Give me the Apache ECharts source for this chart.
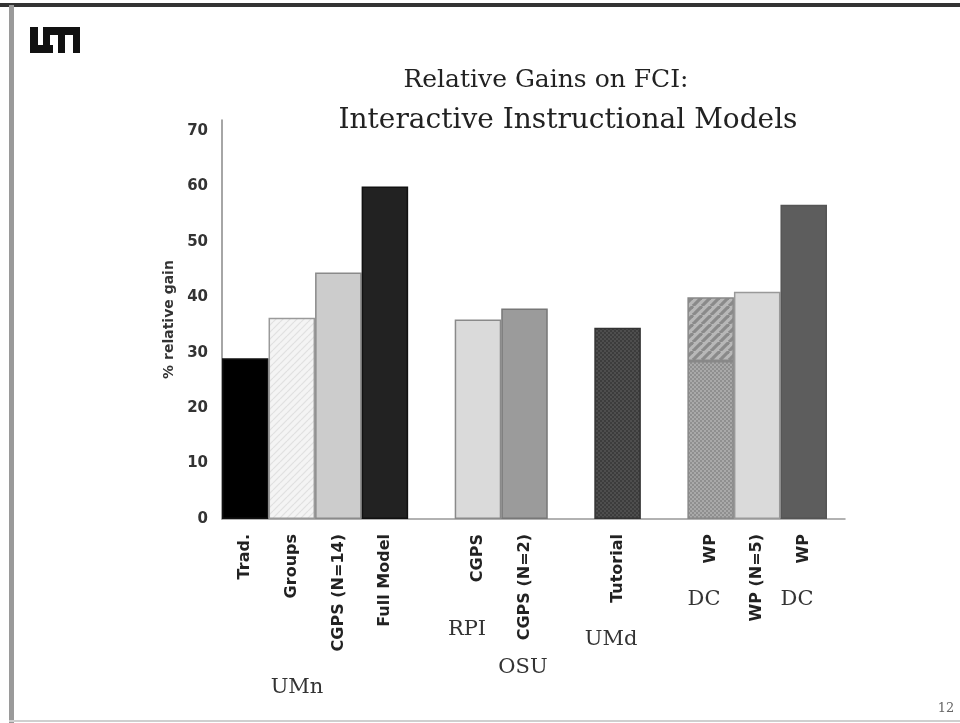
<!DOCTYPE html>
<html>
<head>
<meta charset="utf-8">
<title>Relative Gains on FCI</title>
<script src="https://cdn.jsdelivr.net/npm/echarts@6/dist/echarts.min.js"></script>
<style>
  html, body { margin: 0; padding: 0; background: #fff; }
  #chart { width: 960px; height: 723px; }
</style>
</head>
<body>
<div id="chart"></div>
<script>
// Categories along the x axis (empty strings are spacer slots between institutions)
const categories = ['Trad.', 'Groups', 'CGPS (N=14)', 'Full Model', '', 'CGPS', 'CGPS (N=2)', '', 'Tutorial', '', 'WP', 'WP (N=5)', 'WP'];
// % relative gain for each category
const gains = [29, 36.3, 44.5, 60, null, 36, 38, null, 34.5, null, 40, 41, 56.7];
// The first DC "WP" bar is split into two shaded parts; this is the lower part
const splitIndex = 10;
const splitLower = 28.5;
// Y axis ticks
const yTicks = [0, 10, 20, 30, 40, 50, 60, 70];
// Institution labels under the axis labels
const groupLabels = ['UMn', 'RPI', 'OSU', 'UMd', 'DC', 'DC'];

// Small canvas textures used as bar fills
function makePattern(size, draw) {
  const c = document.createElement('canvas');
  c.width = size; c.height = size;
  draw(c.getContext('2d'), size);
  return { image: c, repeat: 'repeat' };
}
function diagonal(bg, fg, size, lw) {
  return makePattern(size, (ctx, s) => {
    ctx.fillStyle = bg; ctx.fillRect(0, 0, s, s);
    ctx.strokeStyle = fg; ctx.lineWidth = lw;
    for (let k = -1; k <= 1; k++) {
      ctx.beginPath();
      ctx.moveTo(k * s, s);
      ctx.lineTo(k * s + s, 0);
      ctx.stroke();
    }
  });
}
function checker(a, b) {
  return makePattern(4, (ctx) => {
    ctx.fillStyle = a; ctx.fillRect(0, 0, 4, 4);
    ctx.fillStyle = b; ctx.fillRect(0, 0, 2, 2); ctx.fillRect(2, 2, 2, 2);
  });
}

const fills = [
  '#000000',
  diagonal('#f4f4f4', '#e0e0e0', 7, 1.2),
  '#cccccc',
  '#222222',
  null,
  '#dadada',
  '#9b9b9b',
  null,
  checker('#4e4e4e', '#3c3c3c'),
  null,
  checker('#a9a9a9', '#8f8f8f'),
  '#dadada',
  '#5d5d5d'
];
const borders = ['#111', '#9a9a9a', '#8a8a8a', '#111', null, '#8a8a8a', '#777', null, '#333', null, '#888', '#999', '#555'];
const upperFill = diagonal('#b8b8b8', '#8a8a8a', 9, 3.2);

const lowerData = gains.map((v, i) => {
  if (v == null) return null;
  return {
    value: i === splitIndex ? splitLower : v,
    itemStyle: { color: fills[i], borderColor: borders[i], borderWidth: 1.5 }
  };
});
const upperData = gains.map((v, i) => {
  if (i !== splitIndex) return null;
  return {
    value: v - splitLower,
    itemStyle: { color: upperFill, borderColor: '#888', borderWidth: 1.5 }
  };
});

const axisFont = 'DejaVu Sans, Liberation Sans, Arial, sans-serif';
const serifFont = 'DejaVu Serif, Liberation Serif, serif';

const groupPos = [[297, 688], [467, 630], [523, 668], [611, 640], [704, 600], [797, 600]];

const chart = echarts.init(document.getElementById('chart'), null, { renderer: 'canvas' });
chart.setOption({
  backgroundColor: '#ffffff',
  animation: false,
  title: [
    { text: 'Relative Gains on FCI:', left: 541, top: 63, textAlign: 'center',
      textStyle: { fontFamily: serifFont, fontSize: 25, fontWeight: 'normal', color: '#222' } },
    { text: 'Interactive Instructional Models', left: 563, top: 102, textAlign: 'center',
      textStyle: { fontFamily: serifFont, fontSize: 28, fontWeight: 'normal', color: '#222' } }
  ],
  grid: [
    { left: 222, right: 133, top: 120, bottom: 204 },
    { left: 222, right: 115, top: 120, bottom: 204 }
  ],
  xAxis: [
    {
      type: 'category', gridIndex: 0, data: categories,
      axisLine: { show: false },
      axisTick: { show: false },
      axisLabel: {
        interval: 0, rotate: 90, margin: 15,
        fontFamily: axisFont, fontWeight: 'bold', fontSize: 16, color: '#222'
      }
    },
    {
      type: 'value', gridIndex: 1, min: 0, max: 1,
      axisLine: { show: true, onZero: false, lineStyle: { color: '#999', width: 1.5 } },
      axisTick: { show: false }, axisLabel: { show: false }, splitLine: { show: false }
    }
  ],
  yAxis: [
    {
      type: 'value', gridIndex: 0, min: yTicks[0], max: 72, interval: 10,
      name: '% relative gain', nameLocation: 'middle', nameGap: 46, nameRotate: 90,
      nameTextStyle: { fontFamily: axisFont, fontWeight: 'bold', fontSize: 14, color: '#333' },
      axisLine: { show: true, lineStyle: { color: '#888', width: 1.5 } },
      axisTick: { show: false },
      splitLine: { show: false },
      axisLabel: {
        showMaxLabel: false, margin: 14,
        fontFamily: axisFont, fontWeight: 'bold', fontSize: 15, color: '#333',
        formatter: (v) => (yTicks.indexOf(v) >= 0 ? String(v) : '')
      }
    },
    { type: 'value', gridIndex: 1, show: false, min: 0, max: 1 }
  ],
  series: [
    { type: 'bar', xAxisIndex: 0, yAxisIndex: 0, stack: 'gain', barCategoryGap: '0%', data: lowerData },
    { type: 'bar', xAxisIndex: 0, yAxisIndex: 0, stack: 'gain', barCategoryGap: '0%', data: upperData }
  ],
  graphic: [
    // slide frame
    { type: 'rect', shape: { x: 0, y: 3, width: 960, height: 4 }, style: { fill: '#333' }, silent: true },
    { type: 'rect', shape: { x: 9, y: 5, width: 5, height: 718 }, style: { fill: '#9a9a9a' }, silent: true },
    { type: 'rect', shape: { x: 9, y: 720, width: 951, height: 2 }, style: { fill: '#cfcfcf' }, silent: true },
    // logo
    { type: 'group', silent: true, children: [
      { type: 'rect', shape: { x: 30, y: 27, width: 8, height: 26 }, style: { fill: '#111' } },
      { type: 'rect', shape: { x: 30, y: 45, width: 23, height: 8 }, style: { fill: '#111' } },
      { type: 'rect', shape: { x: 43, y: 27, width: 37, height: 8 }, style: { fill: '#111' } },
      { type: 'rect', shape: { x: 43, y: 27, width: 7, height: 18 }, style: { fill: '#111' } },
      { type: 'rect', shape: { x: 58, y: 27, width: 7, height: 26 }, style: { fill: '#111' } },
      { type: 'rect', shape: { x: 73, y: 27, width: 7, height: 26 }, style: { fill: '#111' } }
    ] },
    // institution labels
    ...groupLabels.map((t, i) => ({
      type: 'text', silent: true,
      style: { text: t, x: groupPos[i][0], y: groupPos[i][1], textAlign: 'center', textVerticalAlign: 'middle',
        font: '21px ' + serifFont, fill: '#333' }
    })),
    // page number
    { type: 'text', silent: true,
      style: { text: '12', x: 946, y: 709, textAlign: 'center', textVerticalAlign: 'middle',
        font: '13px ' + serifFont, fill: '#666' } }
  ]
});
</script>
</body>
</html>
